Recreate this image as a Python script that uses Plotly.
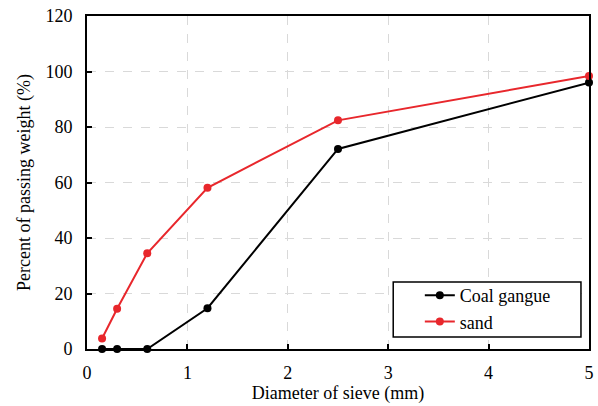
import plotly.graph_objects as go

sieve = [0.15, 0.3, 0.6, 1.2, 2.5, 5]
coal_gangue = [0, 0, 0, 14.7, 72.1, 96.0]
sand = [3.8, 14.5, 34.5, 58.1, 82.4, 98.4]

font = '"Times New Roman", "Liberation Serif", Times, serif'
fs = 18

fig = go.Figure()
fig.add_trace(go.Scatter(x=sieve, y=coal_gangue, mode="lines+markers", name="Coal gangue",
                         line=dict(color="black", width=2), marker=dict(color="black", size=8),
                         cliponaxis=False))
fig.add_trace(go.Scatter(x=sieve, y=sand, mode="lines+markers", name="sand",
                         line=dict(color="#e8272c", width=2), marker=dict(color="#e8272c", size=8),
                         cliponaxis=False))

axis_common = dict(showline=True, mirror=True, linecolor="black", linewidth=2,
                   ticks="inside", ticklen=5, tickcolor="black", tickwidth=1.5,
                   showgrid=True, gridcolor="#d9d9d9", griddash="dash", gridwidth=1,
                   zeroline=False, automargin=False, ticklabeloverflow="allow",
                   tickfont=dict(family=font, size=fs, color="black"))

fig.update_layout(
    width=598, height=406,
    margin=dict(l=87, r=9, t=16, b=57),
    paper_bgcolor="white", plot_bgcolor="white",
    font=dict(family=font, size=fs, color="black"),
    xaxis=dict(range=[0, 5], dtick=1, ticklabelstandoff=6,
               title=dict(text="Diameter of sieve (mm)", standoff=4, font=dict(family=font, size=fs)),
               **axis_common),
    yaxis=dict(range=[0, 120], dtick=20, ticklabelstandoff=9,
               title=dict(text="Percent of passing weight (%)", standoff=10, font=dict(family=font, size=fs)),
               **axis_common),
    legend=dict(x=0.663, y=0.027, xanchor="left", yanchor="bottom",
                borderwidth=0, bgcolor="rgba(0,0,0,0)",
                font=dict(family=font, size=fs), itemwidth=30, tracegroupgap=0),
    shapes=[dict(type="rect", xref="paper", yref="paper", x0=0.61, x1=0.984, y0=0.036, y1=0.201,
                 line=dict(color="black", width=1.5), fillcolor="white", layer="above")],
    showlegend=True,
)

# remove the browser's default 8px body margin so the figure fills the 598x406 window
fig.write_html("out.html", config={"displayModeBar": False},
               post_script="document.body.style.margin='0px';")
